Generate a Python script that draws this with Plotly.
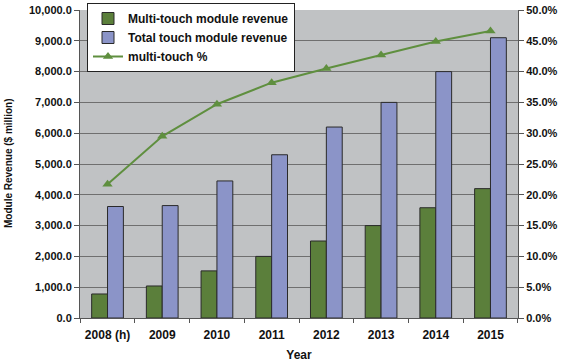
import plotly.graph_objects as go

years = ["2008 (h)", "2009", "2010", "2011", "2012", "2013", "2014", "2015"]
multi_rev = [780, 1040, 1530, 2000, 2500, 3000, 3580, 4200]
total_rev = [3620, 3650, 4450, 5300, 6200, 7000, 8000, 9100]
multi_pct = [21.7, 29.5, 34.7, 38.2, 40.5, 42.7, 44.9, 46.6]

left_ticks = [i * 1000 for i in range(11)]
left_labels = [f"{v:,.1f}" for v in left_ticks]
right_ticks = [i * 5 for i in range(11)]
right_labels = [f"{v:.1f}%" for v in right_ticks]

FAM = "Liberation Sans, Arial, sans-serif"
font = dict(family=FAM, size=12, color="#111111", weight="bold")

fig = go.Figure()
fig.add_trace(go.Bar(x=years, y=multi_rev, name="Multi-touch module revenue",
                     marker=dict(color="#5b7f3b", line=dict(color="#2a2a2a", width=1))))
fig.add_trace(go.Bar(x=years, y=total_rev, name="Total touch module revenue",
                     marker=dict(color="#8b94c8", line=dict(color="#2a2a2a", width=1))))
fig.add_trace(go.Scatter(x=years, y=multi_pct, name="multi-touch %", yaxis="y2",
                         mode="lines+markers",
                         line=dict(color="#5f8f3f", width=2),
                         marker=dict(symbol="triangle-up", size=9, color="#5f8f3f")))

fig.update_layout(
    width=564, height=362,
    margin=dict(l=80, r=46, t=10, b=44, autoexpand=False),
    paper_bgcolor="white", plot_bgcolor="#c0c2c4",
    font=font,
    barmode="group", bargap=0.42, bargroupgap=0,
    showlegend=True,
    legend=dict(x=87 / 564, y=1 - 3 / 362, xref="container", yref="container",
                xanchor="left", yanchor="top",
                bgcolor="white", bordercolor="#222222", borderwidth=1,
                font=dict(family=FAM, size=12, color="#111111", weight="bold"),
                tracegroupgap=0, itemwidth=30),
    xaxis=dict(title=dict(text="Year", standoff=10, font=dict(size=12, weight="bold")),
               tickfont=dict(size=12, weight="bold"), ticklabelstandoff=6,
               showline=True, linecolor="#555555", ticks="outside", ticklen=4,
               tickcolor="#555555", showgrid=False, tickson="boundaries"),
    yaxis=dict(range=[0, 10000], tickvals=left_ticks, ticktext=left_labels,
               tickfont=dict(size=11, weight="bold"),
               showline=True, linecolor="#555555", ticks="outside", ticklen=5, tickcolor="#555555",
               showgrid=True, gridcolor="#6f6f6f", gridwidth=1, zeroline=False),
    yaxis2=dict(overlaying="y", side="right", range=[0, 50], tickvals=right_ticks,
                ticktext=right_labels, tickfont=dict(size=11, weight="bold"),
                showline=True, linecolor="#555555", ticks="outside", ticklen=5, tickcolor="#555555",
                showgrid=False, zeroline=False),
    annotations=[dict(text="Module Revenue ($ million)", textangle=-90,
                      xref="paper", yref="paper", x=0, y=0.5, xshift=-72,
                      xanchor="center", yanchor="middle", showarrow=False,
                      font=dict(family=FAM, size=10, weight="bold", color="#111111"))],
)

fig.write_html("out.html", config={"displayModeBar": False},
               post_script="document.body.style.margin='0';")
